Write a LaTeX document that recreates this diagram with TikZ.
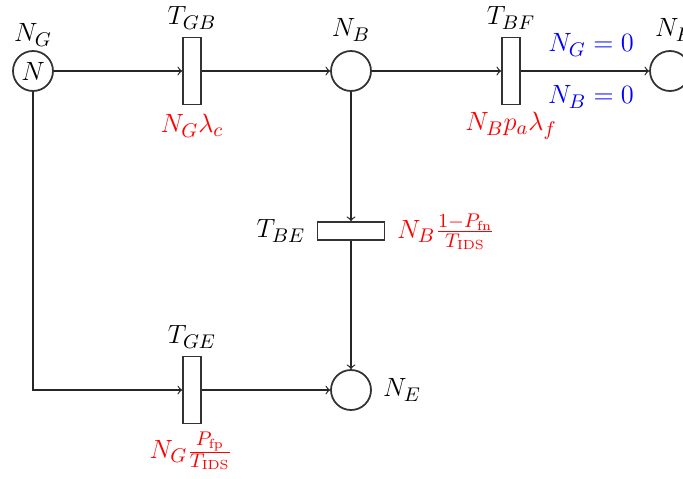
\documentclass[tikz,border=0pt]{standalone}
\usetikzlibrary{arrows}
\begin{document}
\begin{tikzpicture}[x=0.4545pt,y=-0.4545pt,font=\fontsize{12.6}{15}\selectfont,
  place/.style={circle,draw=black!80,line width=0.8pt,minimum size=40*0.4545pt,inner sep=0pt},
  trans/.style={rectangle,draw=black!80,line width=0.8pt,minimum width=18*0.4545pt,minimum height=67*0.4545pt,inner sep=0pt},
  htrans/.style={rectangle,draw=black!80,line width=0.8pt,minimum width=67*0.4545pt,minimum height=18*0.4545pt,inner sep=0pt},
  arc/.style={->,draw=black!85,line width=0.55pt},
  rate/.style={text=red},
  cond/.style={text=blue}]
\useasboundingbox (0,0) rectangle (683,478);
\node[place] (NG) at (33,71) {$N$};
\node[trans] (TGB) at (192,71) {};
\node[place] (NB) at (351,71) {};
\node[trans] (TBF) at (511,71) {};
\node[place] (NF) at (670,71) {};
\node[htrans] (TBE) at (351,231) {};
\node[place] (NE) at (351,390) {};
\node[trans] (TGE) at (192,390) {};
% labels
\node (lNG) at (33,35) {$N_G$};
\node (lTGB) at (192,18) {$T_{GB}$};
\node (lNB) at (351,30) {$N_B$};
\node (lTBF) at (511,18) {$T_{BF}$};
\node (lNF) at (674,30) {$N_F$};
\node (lTBE) at (281,231) {$T_{BE}$};
\node (lTGE) at (192,337) {$T_{GE}$};
\node (lNE) at (402,390) {$N_E$};
\node[rate] (rGB) at (192,126) {$N_G\lambda_c$};
\node[rate] (rBF) at (511,126) {$N_Bp_a\lambda_f$};
\node[rate] (rBE) at (446,232) {$N_B\frac{1-P_{\rm fn}}{T_{\rm IDS}}$};
\node[rate] (rGE) at (191,451) {$N_G\frac{P_{\rm fp}}{T_{\rm IDS}}$};
\node[cond] (c1) at (591,45) {$N_G=0$};
\node[cond] (c2) at (591,97) {$N_B=0$};
% arcs
\draw[arc] (NG) -- (TGB);
\draw[arc] (TGB) -- (NB);
\draw[arc] (NB) -- (TBF);
\draw[arc] (TBF) -- (NF);
\draw[arc] (NB) -- (TBE);
\draw[arc] (TBE) -- (NE);
\draw[arc] (NG) |- (TGE);
\draw[arc] (TGE) -- (NE);
\end{tikzpicture}
\end{document}
